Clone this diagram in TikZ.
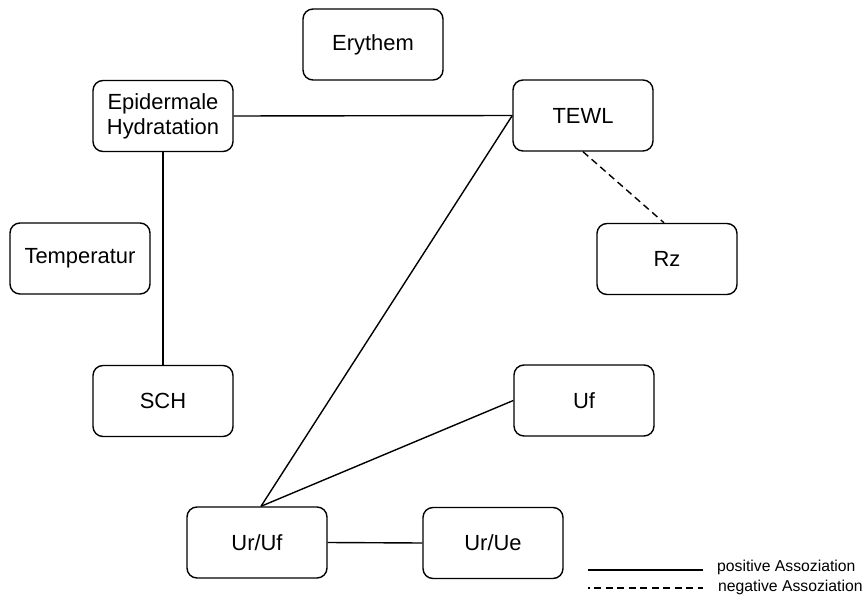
\documentclass[tikz,border=0pt]{standalone}
\usepackage{fontspec}
\setmainfont{Liberation Sans}
\begin{document}
\begin{tikzpicture}[x=1bp,y=-1bp,
  box/.style={draw, line width=1.4bp, rounded corners=10bp,
    minimum width=140bp, minimum height=71bp, inner sep=0pt,
    align=center, font=\fontsize{22}{25}\selectfont},
  link/.style={line width=1.4bp},
  neglink/.style={line width=1.4bp, dash pattern=on 7bp off 4.5bp},
  legtext/.style={anchor=base west, inner sep=0pt,
    font=\fontsize{15.8}{18}\selectfont}]
\useasboundingbox (0,0) rectangle (865,599);

% variables
\node[box] (ery)  at (373,44.5)  {Erythem};
\node[box] (epi)  at (163,116)   {Epidermale\\Hydratation};
\node[box] (tewl) at (583,115.5) {TEWL};
\node[box] (temp) at (80,258.5)  {Temperatur};
\node[box] (rz)   at (667,259)   {Rz};
\node[box] (sch)  at (163,401)   {SCH};
\node[box] (uf)   at (584,400.5) {Uf};
\node[box] (uruf) at (257,542.5) {Ur/Uf};
\node[box] (urue) at (493,543)   {Ur/Ue};

% meeting point on top of Ur/Uf
\coordinate (hub) at ([xshift=4bp]uruf.north);

% associations
\draw[link] (epi.east) -- (tewl.west);
\draw[link] (epi.south) -- (sch.north);
\draw[neglink] (tewl.south) -- ([xshift=-3bp]rz.north);
\draw[link] (tewl.west) -- (hub);
\draw[link] (uf.west) -- (hub);
\draw[link] (uruf.east) -- (urue.west);

% legend
\coordinate (pa) at (588,570);
\coordinate (pb) at (703,570);
\coordinate (na) at (588,588);
\coordinate (nb) at (703,588);
\draw[link] (pa) -- (pb);
\draw[neglink, dash phase=5.5bp] (na) -- (nb);
\node[legtext] (lpos) at (717,571) {positive Assoziation};
\node[legtext] (lneg) at (718,591) {negative Assoziation};
\end{tikzpicture}
\end{document}
